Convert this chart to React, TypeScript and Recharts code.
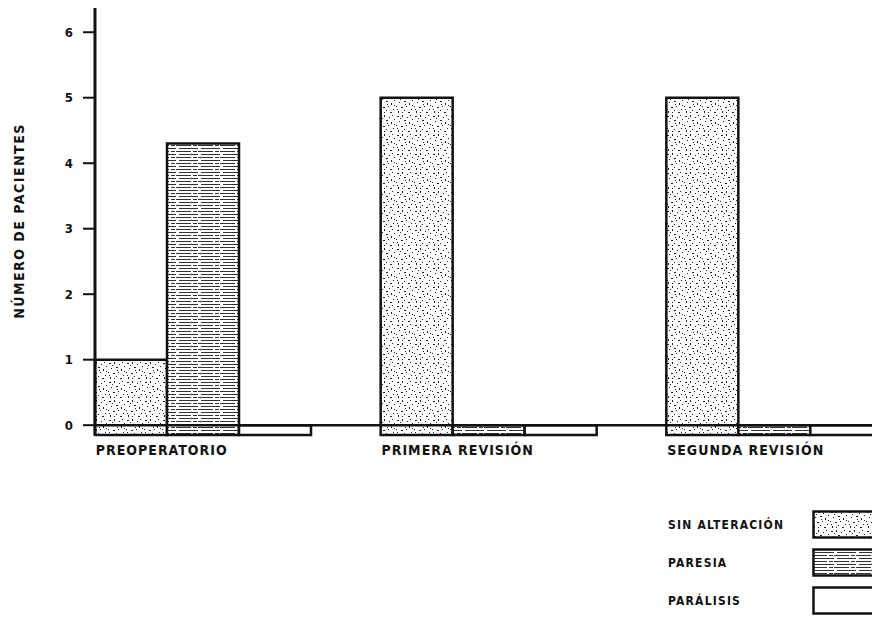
import { BarChart, Bar, XAxis, YAxis, ReferenceLine, Legend, Label } from "recharts";

const categories = ["PREOPERATORIO", "PRIMERA REVISIÓN", "SEGUNDA REVISIÓN"];
const sinAlteracion = [1, 5, 5];
const paresia = [4.3, 0, 0];
const paralisis = [0, 0, 0];
const yTicks = [0, 1, 2, 3, 4, 5, 6];

// the original draws every bar from a little below the zero line
const BASE = -0.15;

const data = categories.map((name, i) => ({
  name,
  sin: [BASE, sinAlteracion[i]],
  paresia: [BASE, paresia[i]],
  paralisis: [BASE, paralisis[i]],
}));

const FONT = '"DejaVu Sans Condensed", "Liberation Sans Narrow", sans-serif';

// fixed speckle layout for the stippled fill
const dots = [
  [1, 2, 2, 1], [6, 1, 1, 2], [11, 3, 1, 1], [3, 7, 1, 1], [8, 6, 2, 1],
  [13, 8, 1, 2], [0, 11, 1, 1], [5, 12, 2, 1], [10, 11, 1, 1], [15, 14, 1, 1],
  [2, 16, 1, 2], [8, 15, 1, 1], [12, 17, 2, 1], [4, 4, 1, 1], [16, 5, 1, 1],
  [9, 9, 1, 1], [14, 1, 1, 1], [6, 17, 1, 1], [1, 14, 1, 1], [16, 10, 1, 1],
];

const legendItems = [
  { label: "SIN ALTERACIÓN", fill: "url(#stipple)" },
  { label: "PARESIA", fill: "url(#hlines)" },
  { label: "PARÁLISIS", fill: "#fff" },
];

function CategoryTick({ x, y, payload }: any) {
  return (
    <text x={x - 107} y={y + 20} fontFamily={FONT} fontWeight="bold" fontSize={14} fill="#111" letterSpacing={1}>
      {payload.value}
    </text>
  );
}

function LegendBox() {
  return (
    <div style={{ fontFamily: FONT }}>
      {legendItems.map((item) => (
        <div key={item.label} style={{ display: "flex", alignItems: "center", height: 38 }}>
          <span style={{ width: 144, fontSize: 12, fontWeight: "bold", letterSpacing: 1.2, color: "#111" }}>
            {item.label}
          </span>
          <svg width={70} height={30}>
            <rect x={1.5} y={1.5} width={80} height={26} fill={item.fill} stroke="#111" strokeWidth={2.5} />
          </svg>
        </div>
      ))}
    </div>
  );
}

export default function App() {
  return (
    <div style={{ position: "fixed", left: 0, top: 0, width: 872, height: 618, overflow: "hidden", background: "#fff" }}>
      <BarChart
        width={917}
        height={618}
        data={data}
        margin={{ top: 8, right: 0, left: 0, bottom: 0 }}
        barCategoryGap={35}
        barGap={0}
      >
        <defs>
          <pattern id="stipple" width={18} height={19} patternUnits="userSpaceOnUse">
            <rect width={18} height={19} fill="#fff" />
            {dots.map(([dx, dy, w, h], i) => (
              <rect key={i} x={dx} y={dy} width={w} height={h} fill="#222" />
            ))}
          </pattern>
          <pattern id="hlines" width={22} height={6} patternUnits="userSpaceOnUse">
            <rect width={22} height={6} fill="#fff" />
            <rect x={0} y={1} width={15} height={1} fill="#333" />
            <rect x={17} y={1} width={4} height={1} fill="#333" />
            <rect x={3} y={4} width={19} height={1} fill="#333" />
          </pattern>
        </defs>
        <XAxis
          dataKey="name"
          axisLine={false}
          tickLine={false}
          tickSize={0}
          tickMargin={0}
          height={183}
          padding={{ left: -35, right: 0 }}
          tick={<CategoryTick />}
          interval={0}
        />
        <YAxis
          type="number"
          domain={[BASE, 6.37]}
          ticks={yTicks}
          width={95}
          axisLine={{ stroke: "#111", strokeWidth: 3 }}
          tickLine={{ stroke: "#111", strokeWidth: 2 }}
          tickSize={12}
          tickMargin={10}
          tick={{ fontFamily: FONT, fontWeight: "bold", fontSize: 13, fill: "#111" }}
        >
          <Label
            content={() => (
              <text
                x={24}
                y={221}
                transform="rotate(-90, 24, 221)"
                textAnchor="middle"
                fontFamily={FONT}
                fontWeight="bold"
                fontSize={14}
                letterSpacing={1.5}
                fill="#111"
              >
                NÚMERO DE PACIENTES
              </text>
            )}
          />
        </YAxis>
        <Legend
          layout="horizontal"
          verticalAlign="middle"
          align="center"
          content={<LegendBox />}
          wrapperStyle={{ left: 668, top: 506, width: 220 }}
        />
        <Bar dataKey="sin" name="SIN ALTERACIÓN" fill="url(#stipple)" stroke="#111" strokeWidth={2.5} isAnimationActive={false} />
        <Bar dataKey="paresia" name="PARESIA" fill="url(#hlines)" stroke="#111" strokeWidth={2.5} isAnimationActive={false} />
        <Bar dataKey="paralisis" name="PARÁLISIS" fill="#fff" stroke="#111" strokeWidth={2.5} isAnimationActive={false} />
        <ReferenceLine y={0} stroke="#111" strokeWidth={2.5} />
      </BarChart>
    </div>
  );
}
